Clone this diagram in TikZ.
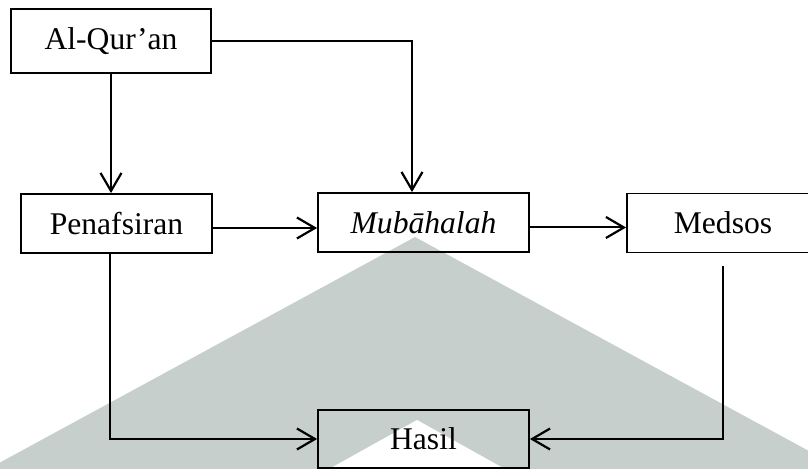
\documentclass[tikz,border=0pt]{standalone}
\usepackage{fontspec}
\setmainfont{Liberation Serif}
\usetikzlibrary{arrows.meta}
\definecolor{tandaair}{RGB}{198,207,203}

\begin{document}
\begin{tikzpicture}[x=0.5pt,y=-0.5pt,
		kotak/.style={draw,line width=0.9pt,inner sep=0pt,minimum height=29.5pt,font=\fontsize{15.8}{18}\selectfont},
		panah/.style={line width=1pt,-{Straight Barb[length=9pt,width=10.5pt,line width=1.1pt]}}]
			\useasboundingbox (0,0) rectangle (808,469);
			\clip (0,0) rectangle (808,469);
			% watermark di belakang
			\fill[tandaair] (415,237) -- (842,469) -- (-12,469) -- cycle;
			\fill[white] (417,420) -- (505,469) -- (329,469) -- cycle;
			% kotak
			\node[kotak,minimum width=100pt,minimum height=32pt] (quran) at (111,41) {Al-Qur’an};
			\node[kotak,minimum width=95.5pt] (tafsir) at (116.5,223.5) {Penafsiran};
			\node[kotak,minimum width=105.5pt] (mubahalah) at (423.5,222.5) {\textit{Mubāhalah}};
			\node[kotak,minimum width=96pt] (medsos) at (723,223) {Medsos};
			\node[kotak,minimum width=105.5pt,minimum height=29pt] (hasil) at (423.5,439) {Hasil};
			% panah
			\draw[panah] (quran.south) -- (quran.south |- tafsir.north);
			\draw[panah] (quran.east) -| ([xshift=-5.75pt]mubahalah.north);
			\draw[panah] ([yshift=-2.25pt]tafsir.east) -- ([yshift=-2.25pt]tafsir.east -| mubahalah.west);
			\draw[panah] ([yshift=-2.5pt]mubahalah.east) -- ([yshift=-2.5pt]mubahalah.east -| medsos.west);
			\draw[panah] ([xshift=-3.25pt]tafsir.south) |- (hasil.west);
			\coordinate (medsosbawah) at ([yshift=-6.5pt]medsos.south);
			\draw[panah] (medsosbawah) |- (hasil.east);
		\end{tikzpicture}
\end{document}
